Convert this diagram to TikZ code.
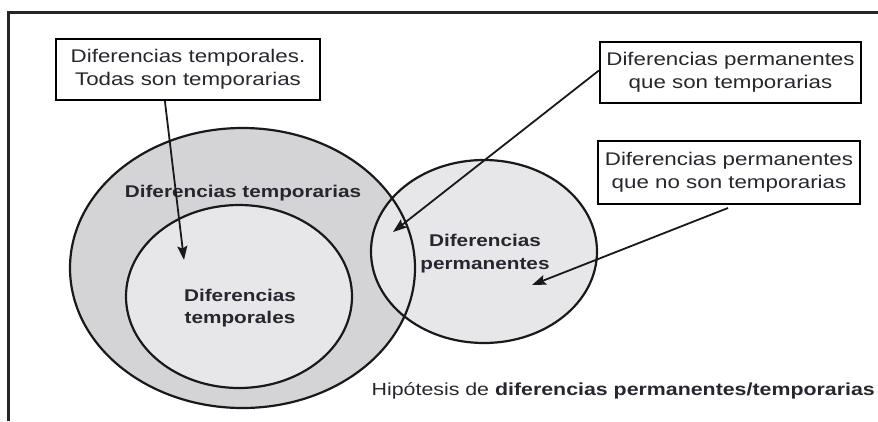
\documentclass[tikz,border=0pt]{standalone}
\usepackage{fontspec}
\setmainfont[FakeStretch=1.22]{Liberation Sans}
\usetikzlibrary{arrows.meta,calc}
\definecolor{ink}{HTML}{26262E}
\definecolor{ringgray}{HTML}{D4D4D6}
\definecolor{coregray}{HTML}{E7E7E9}
\tikzset{
  callout/.style={draw=black, line width=2.2pt, fill=white, align=center,
    inner sep=0pt, font=\fontsize{18.3}{22.5}\selectfont, text=ink},
  setlabel/.style={align=center, font=\fontsize{17}{22.5}\selectfont\bfseries, text=ink},
  pointer/.style={draw=black!90, line width=1.8pt,
    -{Stealth[length=14pt,width=10pt,inset=2.5pt]}},
  outline/.style={draw=black!90, line width=2.2pt}
}
\begin{document}
\begin{tikzpicture}[x=1pt,y=-1pt]
  \useasboundingbox (0,0) rectangle (878,421);
  % open frame: top and left edges
  \draw[line width=2.6pt, draw=black!85] (878,12.5) -- (8.5,12.5) -- (8.5,421);

  % outer set and its core
  \fill[ringgray] (242.5,268) ellipse [x radius=172.5pt, y radius=140pt];
  \draw[outline, fill=coregray] (239,296.5) ellipse [x radius=113pt, y radius=91.5pt];
  % permanent differences set, drawn over the outer one
  \draw[outline, fill=coregray] (484,251.5) ellipse [x radius=113pt, y radius=91.5pt];
  \draw[outline] (242.5,268) ellipse [x radius=172.5pt, y radius=140pt];

  % set labels
  \node[setlabel] (ltemporarias) at (243,193) {Diferencias temporarias};
  \node[setlabel] (ltemporales) at (240,308) {Diferencias\\temporales};
  \node[setlabel] (lpermanentes) at (485,253.5) {Diferencias\\permanentes};

  % callout boxes
  \node[callout, minimum width=264pt, minimum height=61pt] (b1) at (188,69.5)
    {Diferencias temporales.\\Todas son temporarias};
  \node[callout, minimum width=261pt, minimum height=61pt] (b2) at (730.5,72.5)
    {Diferencias permanentes\\que son temporarias};
  \node[callout, minimum width=262pt, minimum height=63pt] (b3) at (729,172.5)
    {Diferencias permanentes\\que no son temporarias};

  % pointer targets
  \coordinate (t1) at (184,260);
  \coordinate (t2) at (393,232);
  \coordinate (t3) at (532,285);
  \coordinate (s3) at (728,208);

  \draw[pointer] ($(b1.south west)+(110,0)$) -- (t1);
  \draw[pointer] ($(b2.west)+(0,-2)$) -- (t2);
  \draw[pointer] (s3) -- (t3);

  % caption
  \node[anchor=east, font=\fontsize{17.5}{20}\selectfont, text=ink, inner sep=0pt] (caption) at (875,391)
    {Hipótesis de \textbf{diferencias permanentes/temporarias}};
\end{tikzpicture}
\end{document}
